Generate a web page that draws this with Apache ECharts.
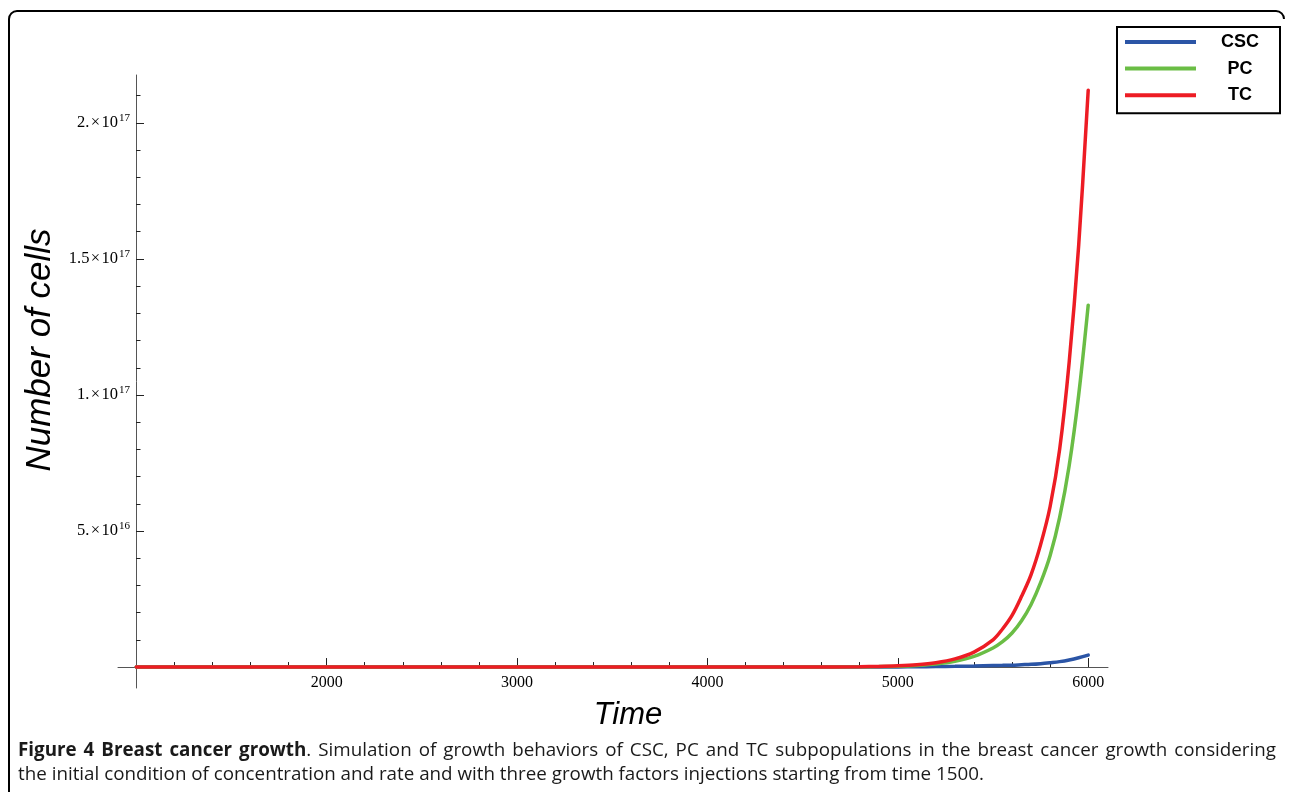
<!DOCTYPE html>
<html><head><meta charset="utf-8">
<script src="https://cdn.jsdelivr.net/npm/echarts@6/dist/echarts.min.js"></script>
<style>html,body{margin:0;padding:0;background:#fff}#c{width:1290px;height:792px}</style>
</head><body><div id="c"></div>
<script>
// ---- data ----
const times = [1000,1500,2000,2500,3000,3500,4000,4500,4800,4900,5000,5100,5200,5300,5400,5500,5550,5600,5650,5700,5750,5800,5850,5900,5950,6000];
const cscValues = [1e9,2e9,5e9,1e10,3e10,1e11,4e11,3e12,2e13,4e13,6e13,1e14,1.6e14,2.5e14,3.8e14,5.5e14,6.2e14,7e14,8.5e14,1.0e15,1.25e15,1.6e15,2.0e15,2.6e15,3.4e15,4.4e15];
const pcValues  = [5e9,1e10,3e10,8e10,2.5e11,1e12,4e12,1.4e13,8e13,1.6e14,3e14,6e14,1.1e15,2.1e15,3.9e15,7.0e15,9.3e15,1.25e16,1.7e16,2.3e16,3.1e16,4.1e16,5.5e16,7.4e16,1.0e17,1.33e17];
const tcValues  = [1e10,2e10,5e10,1e11,4e11,1.5e12,6e12,2e13,1.2e14,2.3e14,4.5e14,8.5e14,1.6e15,3.0e15,5.5e15,1.0e16,1.4e16,1.9e16,2.6e16,3.4e16,4.5e16,5.9e16,8.0e16,1.12e17,1.55e17,2.12e17];
const seriesNames = ['CSC','PC','TC'];
const seriesColors = ['#2b55a6','#6abd45','#ed1c24'];
const xMajorTicks = [2000,3000,4000,5000,6000];
const xMinorTicks = [1200,1400,1600,1800,2200,2400,2600,2800,3200,3400,3600,3800,4200,4400,4600,4800,5200,5400,5600,5800];
const yMajorTicks = [5e16,1e17,1.5e17,2e17];
const yMajorMantissa = ['5.','1.','1.5','2.'];
const yMajorExponent = ['16','17','17','17'];
const yMinorTicks = [1e16,2e16,3e16,4e16,6e16,7e16,8e16,9e16,1.1e17,1.2e17,1.3e17,1.4e17,1.6e17,1.7e17,1.8e17,1.9e17,2.1e17];
const xTitle = 'Time';
const yTitle = 'Number of cells';
const captionBold = 'Figure 4 Breast cancer growth';
const captionLine1 = '. Simulation of growth behaviors of CSC, PC and TC subpopulations in the breast cancer growth considering';
const captionLine2 = 'the initial condition of concentration and rate and with three growth factors injections starting from time 1500.';

// ---- chart ----
const chart = echarts.init(document.getElementById('c'));
const X_MIN = 904, X_MAX = 6104, Y_MIN = -7.7e15, Y_MAX = 2.176e17;
const axisColor = '#555';
const serif = '"Liberation Serif","DejaVu Serif",serif';

function yLabel(v){
  let best = 0;
  yMajorTicks.forEach((t,i)=>{ if (Math.abs(t-v) < Math.abs(yMajorTicks[best]-v)) best = i; });
  return '{m|' + yMajorMantissa[best] + '\u200a×\u200a10}{s|' + yMajorExponent[best] + '}';
}

const graphics = [];
// frame (top-left rounded corner, left side, top side)
graphics.push({type:'line', silent:true, shape:{x1:9,y1:19,x2:9,y2:800}, style:{stroke:'#000',lineWidth:2}});
graphics.push({type:'line', silent:true, shape:{x1:17,y1:11,x2:1276,y2:11}, style:{stroke:'#000',lineWidth:2}});
graphics.push({type:'arc', silent:true, shape:{cx:17,cy:19,r:8,startAngle:Math.PI,endAngle:Math.PI*1.5,clockwise:true}, style:{stroke:'#000',lineWidth:2,fill:null}});
graphics.push({type:'arc', silent:true, shape:{cx:1276,cy:19,r:8,startAngle:Math.PI*1.5,endAngle:Math.PI*2,clockwise:true}, style:{stroke:'#000',lineWidth:2,fill:null}});

// axis titles
graphics.push({type:'text', silent:true, x:628, y:715, style:{text:xTitle, font:'italic 31px "Liberation Sans", Arial, sans-serif', fill:'#000', textAlign:'center', textVerticalAlign:'middle', align:'center', verticalAlign:'middle'}});
graphics.push({type:'text', silent:true, x:40, y:350, rotation:Math.PI/2, style:{text:yTitle, font:'italic 35px "Liberation Sans", Arial, sans-serif', fill:'#000', textAlign:'center', textVerticalAlign:'middle', align:'center', verticalAlign:'middle'}});

// caption, line 1 justified between x=18 and x=1276
const capFontN = '18.8px "Open Sans", sans-serif';
const capFontB = 'bold 18.8px "Open Sans", sans-serif';
const capColor = '#1a1a1a';
const cv = document.createElement('canvas').getContext('2d');
function mw(t, f){ cv.font = f; return cv.measureText(t).width; }
const words = [];
const bWords = captionBold.split(' ');
bWords.forEach((w,i)=>{
  if (i < bWords.length-1) words.push({parts:[[w,capFontB]]});
  else {
    const rest = captionLine1.split(' ');
    words.push({parts:[[w,capFontB],[rest[0],capFontN]]});
    rest.slice(1).forEach(r=>words.push({parts:[[r,capFontN]]}));
  }
});
let totalW = 0;
words.forEach(w=>{ w.w = w.parts.reduce((s,p)=>s+mw(p[0],p[1]),0); totalW += w.w; });
const gap = Math.max(2, (1276 - 18 - totalW) / (words.length - 1));
let cx = 18;
words.forEach(w=>{
  let px = cx;
  w.parts.forEach(p=>{
    graphics.push({type:'text', silent:true, x:px, y:751, style:{text:p[0], font:p[1], fill:capColor, textAlign:'left', textVerticalAlign:'middle', align:'left', verticalAlign:'middle'}});
    px += mw(p[0],p[1]);
  });
  cx += w.w + gap;
});
graphics.push({type:'text', silent:true, x:18, y:775, style:{text:captionLine2, font:capFontN, fill:capColor, textAlign:'left', textVerticalAlign:'middle', align:'left', verticalAlign:'middle'}});

const seriesData = [cscValues, pcValues, tcValues];

chart.setOption({
  backgroundColor:'#fff',
  animation:false,
  grid:{left:118, right:182, top:75, bottom:104, containLabel:false},
  legend:{
    orient:'vertical', left:1117, top:27,
    data:seriesNames,
    icon:'rect', itemWidth:71, itemHeight:4, itemGap:8.6,
    padding:[6,21,9,8],
    borderColor:'#000', borderWidth:2, borderRadius:0,
    backgroundColor:'#fff',
    selectedMode:false,
    formatter: n => '{t|' + n + '}',
    textStyle:{rich:{t:{width:78, align:'center', fontWeight:'bold', fontSize:18, fontFamily:'"Liberation Sans", Arial, sans-serif', color:'#000'}}}
  },
  xAxis:[
    {type:'value', position:'bottom', min:X_MIN, max:X_MAX,
     axisLine:{show:true, onZero:true, lineStyle:{color:axisColor, width:1}},
     axisTick:{show:true, inside:true, length:9, customValues:xMajorTicks, lineStyle:{color:'#222'}},
     axisLabel:{show:true, customValues:xMajorTicks, margin:-13, fontSize:16, fontFamily:serif, color:'#000', formatter: v => String(v)},
     splitLine:{show:false}},
    {type:'value', position:'bottom', min:X_MIN, max:X_MAX,
     axisLine:{show:true, onZero:true, lineStyle:{color:axisColor, opacity:0}},
     axisTick:{show:true, inside:true, length:5, customValues:xMinorTicks, lineStyle:{color:'#222'}},
     axisLabel:{show:false}, splitLine:{show:false}}
  ],
  yAxis:[
    {type:'value', position:'left', offset:-18, min:Y_MIN, max:Y_MAX,
     axisLine:{show:true, onZero:false, lineStyle:{color:axisColor, width:1}},
     axisTick:{show:true, inside:true, length:8, customValues:yMajorTicks, lineStyle:{color:'#222'}},
     axisLabel:{show:true, customValues:yMajorTicks, margin:6, formatter:yLabel,
       rich:{m:{fontSize:16.5, fontFamily:serif, color:'#000'}, s:{fontSize:11, fontFamily:serif, color:'#000', padding:[0,0,9,1]}}},
     splitLine:{show:false}},
    {type:'value', position:'left', offset:-18, min:Y_MIN, max:Y_MAX,
     axisLine:{show:true, onZero:false, lineStyle:{color:axisColor, opacity:0}},
     axisTick:{show:true, inside:true, length:4.5, customValues:yMinorTicks, lineStyle:{color:'#222'}},
     axisLabel:{show:false}, splitLine:{show:false}}
  ],
  series: seriesNames.map((n,i)=>({
    name:n, type:'line', xAxisIndex:0, yAxisIndex:0,
    data: times.map((t,k)=>[t, seriesData[i][k]]),
    showSymbol:false, smooth:0.35,
    lineStyle:{color:seriesColors[i], width:3.5, cap:'round'},
    itemStyle:{color:seriesColors[i]},
    z: 2 + i
  })),
  graphic: graphics
});
</script>
</body></html>
